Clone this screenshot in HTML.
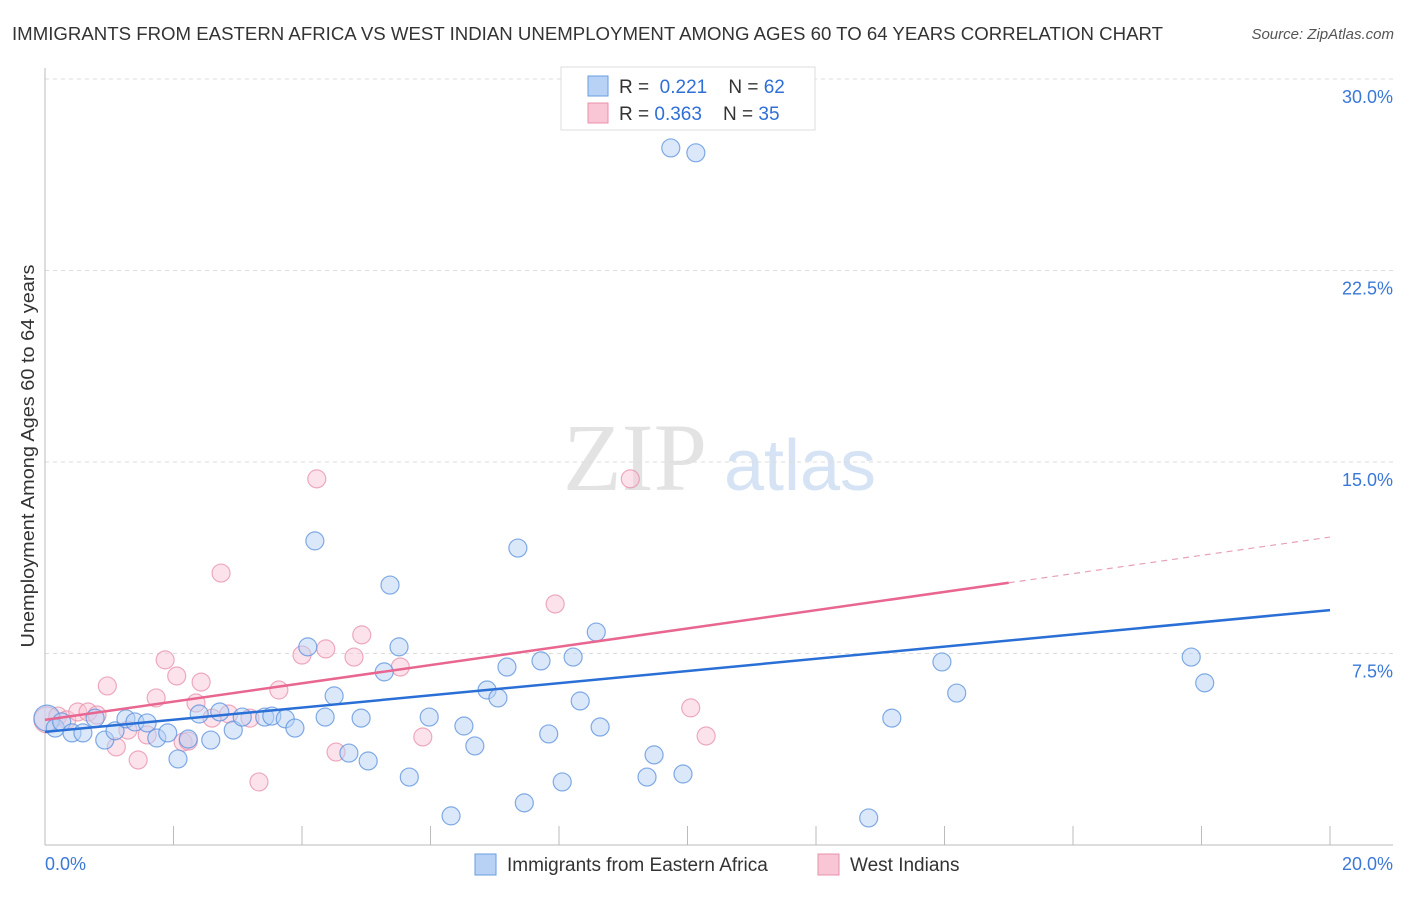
<!DOCTYPE html>
<html><head><meta charset="utf-8"><style>
body{margin:0;background:#fff;font-family:"Liberation Sans",sans-serif}
svg text{font-family:"Liberation Sans",sans-serif}
</style></head><body>
<svg width="1406" height="892" viewBox="0 0 1406 892">
<text x="12" y="40" font-size="18" fill="#333" textLength="1151" lengthAdjust="spacingAndGlyphs">IMMIGRANTS FROM EASTERN AFRICA VS WEST INDIAN UNEMPLOYMENT AMONG AGES 60 TO 64 YEARS CORRELATION CHART</text>
<text x="1394" y="39" font-size="15" fill="#555" text-anchor="end" font-style="italic">Source: ZipAtlas.com</text>
<g>
<text x="635" y="490" font-size="96" fill="#e3e3e3" text-anchor="middle" font-family="Liberation Serif" style="font-family:'Liberation Serif',serif">ZIP</text>
<text x="800" y="490" font-size="72" fill="#d5e3f5" text-anchor="middle">atlas</text>
</g>
<g id="grid"></g>
<g id="marks"></g>
<text x="34" y="456" font-size="18" fill="#333" text-anchor="middle" textLength="383" lengthAdjust="spacingAndGlyphs" transform="rotate(-90 34 456)">Unemployment Among Ages 60 to 64 years</text>
<g>
<rect x="561" y="67" width="254" height="63" fill="#fff" stroke="#ddd"/>
<rect x="588" y="76" width="20" height="20" fill="#b7d2f5" stroke="#6a9ee0"/>
<rect x="588" y="103" width="20" height="20" fill="#f9c6d6" stroke="#e890ab"/>
<text x="619" y="93" font-size="19" fill="#333">R = <tspan fill="#2f6fd6">&#160;0.221</tspan>&#160;&#160;&#160; N = <tspan fill="#2f6fd6">62</tspan></text>
<text x="619" y="120" font-size="19" fill="#333">R = <tspan fill="#2f6fd6">0.363</tspan>&#160;&#160;&#160; N = <tspan fill="#2f6fd6">35</tspan></text>
</g>
<g>
<rect x="475" y="854" width="21" height="21" fill="#b7d2f5" stroke="#6a9ee0"/>
<text x="507" y="871" font-size="19" fill="#333">Immigrants from Eastern Africa</text>
<rect x="818" y="854" width="21" height="21" fill="#f9c6d6" stroke="#e890ab"/>
<text x="850" y="871" font-size="19" fill="#333">West Indians</text>
</g>
</svg>
<script>
const yTicks=[7.5,15,22.5,30];
const yTickLabels=["7.5%","15.0%","22.5%","30.0%"];
const xTickLabels=["0.0%","20.0%"];
const blueX=[0.03,0.16,0.26,0.42,0.59,0.78,0.93,1.09,1.26,1.40,1.59,1.74,1.91,2.07,2.23,2.40,2.58,2.72,2.93,3.07,3.42,3.53,3.74,3.89,4.20,4.09,4.36,4.50,4.73,4.92,5.03,5.28,5.37,5.51,5.67,5.98,6.32,6.52,6.69,6.88,7.05,7.19,7.36,7.46,7.72,7.84,8.05,8.22,8.33,8.58,8.64,9.37,9.48,9.74,9.93,10.13,12.82,13.18,13.96,14.19,17.84,18.05];
const blueY=[4.97,4.58,4.82,4.39,4.39,4.97,4.11,4.47,4.94,4.82,4.78,4.19,4.39,3.37,4.15,5.13,4.11,5.21,4.50,5.01,5.01,5.05,4.94,4.58,11.91,7.76,5.01,5.84,3.60,4.97,3.29,6.78,10.18,7.76,2.66,5.01,1.14,4.66,3.88,6.07,5.76,6.97,11.63,1.65,7.21,4.35,2.47,7.36,5.64,8.34,4.62,2.66,3.53,27.30,2.78,27.11,1.06,4.97,7.17,5.95,7.36,6.35];
const pinkX=[0.03,0.20,0.34,0.51,0.67,0.81,0.97,1.11,1.29,1.45,1.59,1.73,1.87,2.05,2.15,2.23,2.35,2.43,2.60,2.74,2.86,3.19,3.33,3.64,4.00,4.23,4.37,4.53,4.81,4.93,5.53,5.88,7.94,9.11,10.05,10.29];
const pinkY=[4.90,5.05,4.90,5.21,5.21,5.09,6.23,3.84,4.50,3.33,4.31,5.76,7.25,6.62,4.03,4.07,5.56,6.38,4.97,10.65,5.13,4.97,2.47,6.07,7.44,14.34,7.68,3.64,7.36,8.23,6.97,4.23,9.44,14.34,5.37,4.27];
const blueTrend=[4.43,9.20];
const pinkTrend=[4.90,12.06];
const pinkSolidEnd=15.0;

const NS="http://www.w3.org/2000/svg";
const X0=45,X1=1330,Y0=845,Y1=79;
const sx=v=>X0+(v/20)*(X1-X0);
const sy=v=>Y0-(v/30)*(Y0-Y1);
function mk(tag,attrs,parent){const e=document.createElementNS(NS,tag);for(const k in attrs)e.setAttribute(k,attrs[k]);parent.appendChild(e);return e;}
const grid=document.getElementById('grid'),marks=document.getElementById('marks');
yTicks.forEach((t,i)=>{
 const l=mk('line',{x1:X0,x2:1393,y1:sy(t),y2:sy(t),stroke:'#ddd','stroke-dasharray':'4,4'},grid);
 
 
 const tx=mk('text',{x:1393,y:sy(t)+24,'font-size':18,fill:'#3a78d8','text-anchor':'end'},grid);
 tx.textContent=yTickLabels[i];
 
 
});
const ax=mk('line',{x1:X0,x2:X0,y1:68,y2:Y0,stroke:'#bbb'},grid);


const bx=mk('line',{x1:X0,x2:1393,y1:Y0,y2:Y0,stroke:'#bbb'},grid);


for(let i=0;i<=10;i++){
 const t=mk('line',{x1:sx(i*2),x2:sx(i*2),y1:826,y2:Y0,stroke:'#bbb'},grid);
 
 
}
[[0,'start',45],[20,'end',1393]].forEach((p,i)=>{
 const tx=mk('text',{x:p[2],y:870,'font-size':18,fill:'#3a78d8','text-anchor':p[1]},grid);
 tx.textContent=xTickLabels[i];
 
 
});
function pts(xs,ys,fill,stroke,name){
 xs.forEach((x,i)=>{
  const c=mk('circle',{cx:sx(x),cy:sy(ys[i]),r:i==0?13:9,fill:fill,'fill-opacity':0.5,stroke:stroke,'stroke-width':1.2,'stroke-opacity':0.75},marks);
  
  
 });
}
pts(pinkX,pinkY,'#f9c6d6','#e890ab','west-indians-point');
pts(blueX,blueY,'#b7d2f5','#5a90dc','eastern-africa-point');
const bl=mk('line',{x1:sx(0),y1:sy(blueTrend[0]),x2:sx(20),y2:sy(blueTrend[1]),stroke:'#2a6fd6','stroke-width':2.5},marks);


const pe=pinkTrend[0]+(pinkTrend[1]-pinkTrend[0])*pinkSolidEnd/20;
const pl=mk('line',{x1:sx(0),y1:sy(pinkTrend[0]),x2:sx(pinkSolidEnd),y2:sy(pe),stroke:'#e8668f','stroke-width':2.5},marks);


const pd=mk('line',{x1:sx(pinkSolidEnd),y1:sy(pe),x2:sx(20),y2:sy(pinkTrend[1]),stroke:'#e8a0b8','stroke-width':1.2,'stroke-dasharray':'6,5'},marks);


</script>
</body></html>
